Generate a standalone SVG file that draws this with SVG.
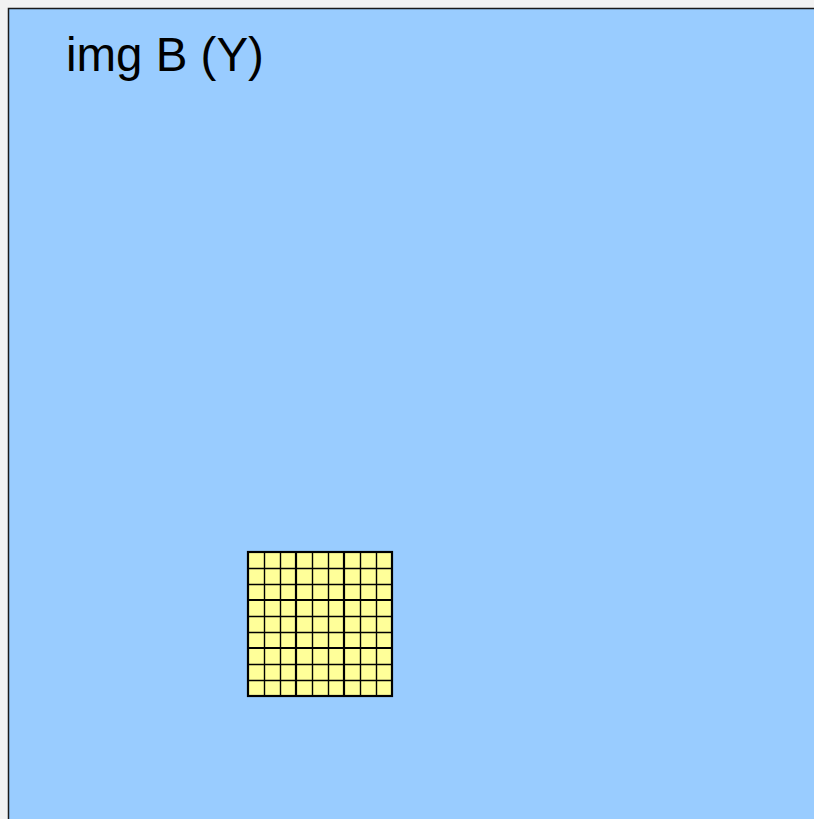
<svg xmlns="http://www.w3.org/2000/svg" width="814" height="819" viewBox="0 0 814 819">
  <style>
    .bg { fill: #f2f2f2; }
    .img { fill: #99ccff; stroke: #1a1a1a; stroke-width: 1.5; }
    .label { font-family: "Liberation Sans", Arial, sans-serif; font-size: 47.5px; fill: #000; }
    .cell { fill: #ffff99; }
    .thin { stroke: #000; stroke-width: 1.4; fill: none; }
    .thick { stroke: #000; stroke-width: 2.2; fill: none; }
  </style>
  <rect class="bg" x="0" y="0" width="814" height="819"/>
  <g id="imgB">
    <rect class="img" x="8.5" y="8.5" width="820" height="830"/>
    <text class="label" x="66" y="71">img B (Y)</text>
  </g>
  <g id="block">
    <rect class="cell" x="248" y="552" width="144" height="144"/>
    <path class="thin" d="M264.5 552V696M280.5 552V696M312.5 552V696M328.5 552V696M360.5 552V696M376.5 552V696M248 568.5H392M248 584.5H392M248 616.5H392M248 632.5H392M248 664.5H392M248 680.5H392"/>
    <path class="thick" d="M296 552V696M344 552V696M248 600H392M248 648H392"/>
    <rect class="thick" x="248" y="552" width="144" height="144"/>
  </g>
</svg>
